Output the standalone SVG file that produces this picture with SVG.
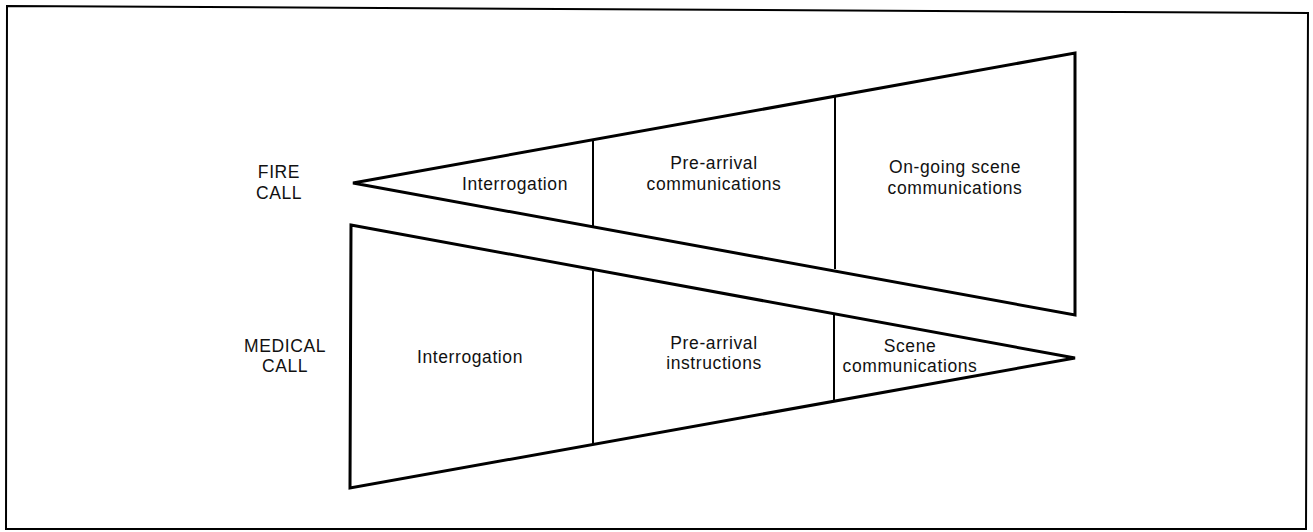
<svg xmlns="http://www.w3.org/2000/svg" width="1313" height="532" viewBox="0 0 1313 532">
<style>
.frame{fill:none;stroke:#000;stroke-width:2}
.wedge{fill:#fff;stroke:#000;stroke-width:3;stroke-linejoin:miter}
.div{stroke:#000;stroke-width:2}
.t{font-family:"Liberation Sans",Arial,sans-serif;font-size:17.5px;letter-spacing:0.6px;fill:#111;text-anchor:middle}
</style>
<rect width="1313" height="532" fill="#fff"/>
<polygon class="frame" points="7,6 1308,13 1306,529 6,529"/>
<g id="fire-call">
<g id="fire-label"><text class="t" x="279" y="178">FIRE</text><text class="t" x="279" y="199">CALL</text></g>
<polygon class="wedge" points="353,183 1075,53 1075,315"/>
<g id="fire-interrogation"><line class="div" x1="593" y1="140" x2="593" y2="226"/><text class="t" x="515" y="190">Interrogation</text></g>
<g id="fire-prearrival"><line class="div" x1="835" y1="96" x2="835" y2="269"/><text class="t" x="714" y="169">Pre-arrival</text><text class="t" x="714" y="190">communications</text></g>
<g id="fire-scene"><text class="t" x="955" y="173">On-going scene</text><text class="t" x="955" y="194">communications</text></g>
</g>
<g id="medical-call">
<g id="medical-label"><text class="t" x="285" y="352">MEDICAL</text><text class="t" x="285" y="372">CALL</text></g>
<polygon class="wedge" points="351,225 1075,358 350,488"/>
<g id="medical-interrogation"><line class="div" x1="593" y1="269" x2="593" y2="445"/><text class="t" x="470" y="363">Interrogation</text></g>
<g id="medical-prearrival"><line class="div" x1="834" y1="314" x2="834" y2="402"/><text class="t" x="714" y="349">Pre-arrival</text><text class="t" x="714" y="369">instructions</text></g>
<g id="medical-scene"><text class="t" x="910" y="352">Scene</text><text class="t" x="910" y="372">communications</text></g>
</g>
<g id="connectors"/>
</svg>
